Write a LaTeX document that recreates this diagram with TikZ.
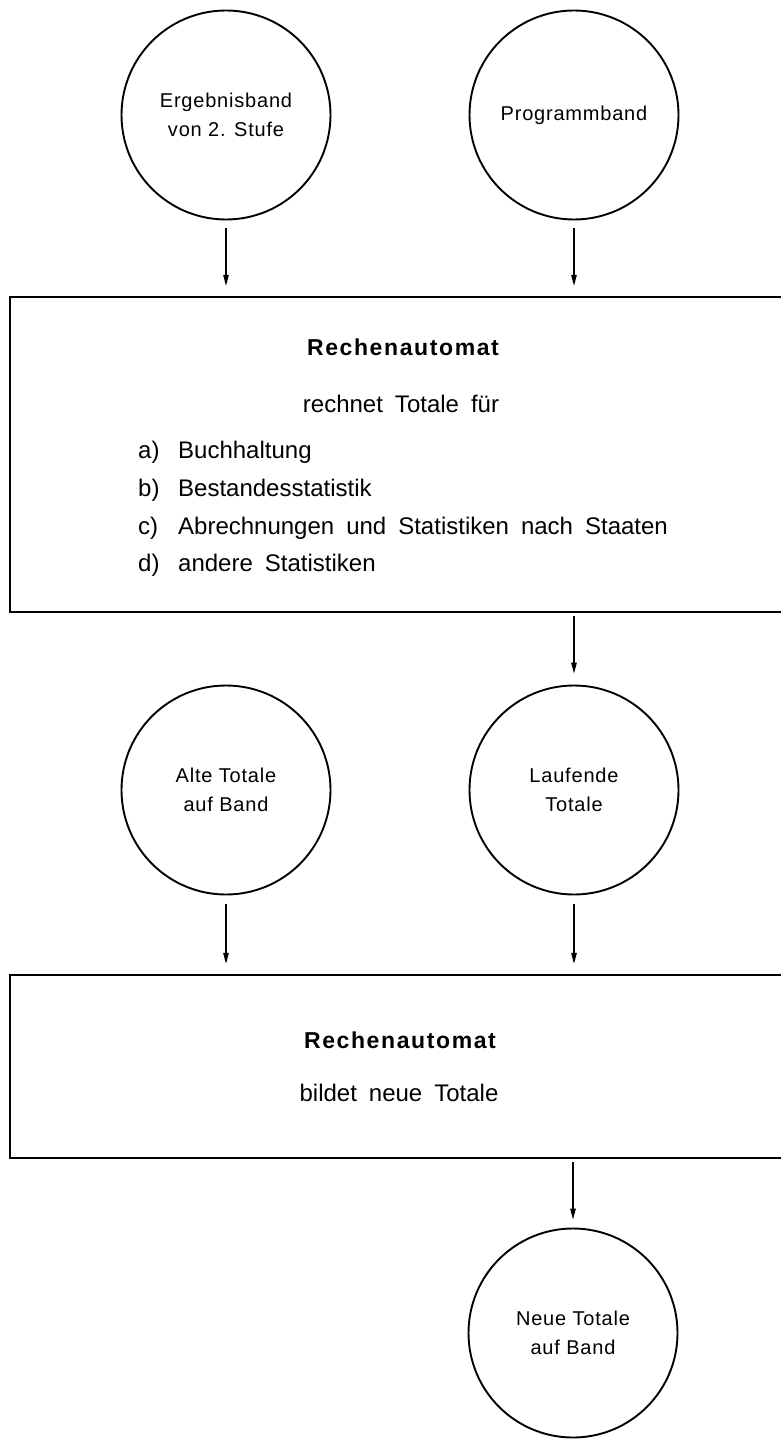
\documentclass[tikz,border=0pt]{standalone}
\usepackage{fontspec}
\setmainfont{Liberation Sans}
\newfontfamily\bandfont{Liberation Sans}[LetterSpace=4]
\newfontfamily\listfont{Liberation Sans}[WordSpace=1.8]
\newfontfamily\headfont{Liberation Sans}[LetterSpace=7]
\usetikzlibrary{arrows.meta}
\begin{document}
\begin{tikzpicture}[x=1pt,y=-1pt,
  band/.style={circle,draw,line width=1.9pt,minimum size=209pt,inner sep=0pt,
    align=center,font=\bandfont\fontsize{20}{29}\selectfont},
  flow/.style={-{Triangle[length=11pt,width=5.5pt]},line width=1.2pt},
  frame/.style={line width=2.4pt},
  proc/.style={rectangle,inner sep=0pt,minimum width=771pt},
  title/.style={font=\headfont\bfseries\fontsize{23}{28}\selectfont},
  body/.style={font=\listfont\fontsize{24}{28}\selectfont},
  item/.style={body,anchor=west,inner sep=0pt}
]
\useasboundingbox (0,0) rectangle (781,1439);
\fill[white] (0,0) rectangle (781,1439);

% input tapes
\node[band] (erg) at (226,115) {Ergebnisband\\von 2. Stufe};
\node[band] (prog) at (574,115) {Programmband};

% first computing stage
\node[proc,minimum height=315pt] (ra1) at (395.5,454.5) {};
\draw[frame] (ra1.north east) -- (ra1.north west) -- (ra1.south west) -- (ra1.south east);
\node[title] (t1) at (403,347) {Rechenautomat};
\node[body] (s1) at (401,404) {rechnet Totale für};
\node[item] (ia) at (138,452) {\makebox[40pt][l]{a)}Buchhaltung};
\node[item] (ib) at (138,490) {\makebox[40pt][l]{b)}Bestandesstatistik};
\node[item] (ic) at (138,528) {\makebox[40pt][l]{c)}Abrechnungen und Statistiken nach Staaten};
\node[item] (id) at (138,565) {\makebox[40pt][l]{d)}andere Statistiken};

% totals tapes
\node[band] (alt) at (226,790) {Alte Totale\\auf Band};
\node[band] (lauf) at (574,790) {Laufende\\Totale};

% second computing stage
\node[proc,minimum height=183pt] (ra2) at (395.5,1066.5) {};
\draw[frame] (ra2.north east) -- (ra2.north west) -- (ra2.south west) -- (ra2.south east);
\node[title] (t2) at (400,1040) {Rechenautomat};
\node[body] (s2) at (399,1093) {bildet neue Totale};

% result tape
\node[band] (neu) at (573,1333) {Neue Totale\\auf Band};

% docking points on the frame edges
\coordinate (in1) at (erg.south |- ra1.north);
\coordinate (in2) at (prog.south |- ra1.north);
\coordinate (out1) at (lauf.north |- ra1.south);
\coordinate (in3) at (alt.south |- ra2.north);
\coordinate (in4) at (lauf.south |- ra2.north);
\coordinate (out2) at (neu.north |- ra2.south);

% connectors
\draw[flow,shorten <=8pt,shorten >=11pt] (erg) -- (in1);
\draw[flow,shorten <=8pt,shorten >=11pt] (prog) -- (in2);
\draw[flow,shorten <=4pt,shorten >=11pt] (out1) -- (lauf);
\draw[flow,shorten <=9pt,shorten >=11pt] (alt) -- (in3);
\draw[flow,shorten <=9pt,shorten >=11pt] (lauf) -- (in4);
\draw[flow,shorten <=4pt,shorten >=8pt] (out2) -- (neu);
\end{tikzpicture}
\end{document}
